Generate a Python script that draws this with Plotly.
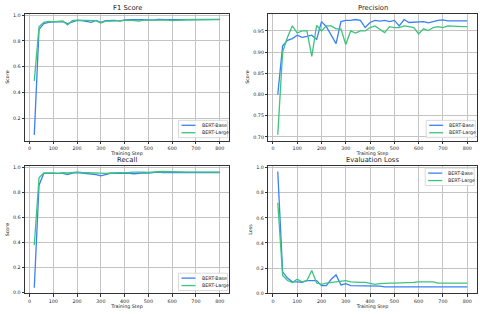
import plotly.graph_objects as go
from plotly.subplots import make_subplots

steps = list(range(20, 801, 20))

f1_base = [0.07, 0.89, 0.935, 0.945, 0.948, 0.950, 0.950, 0.935, 0.950, 0.960,
           0.958, 0.952, 0.945, 0.960, 0.945, 0.958, 0.960, 0.960, 0.955, 0.963,
           0.965, 0.963, 0.965, 0.965, 0.965, 0.962, 0.968, 0.965, 0.966, 0.965,
           0.966, 0.965, 0.967, 0.968, 0.968, 0.968, 0.968, 0.968, 0.968, 0.968]
f1_large = [0.49, 0.91, 0.945, 0.952, 0.948, 0.952, 0.955, 0.925, 0.958, 0.962,
            0.962, 0.960, 0.958, 0.958, 0.940, 0.955, 0.955, 0.955, 0.957, 0.960,
            0.962, 0.960, 0.955, 0.962, 0.962, 0.962, 0.965, 0.962, 0.962, 0.958,
            0.962, 0.962, 0.965, 0.965, 0.965, 0.966, 0.966, 0.966, 0.966, 0.966]

prec_base = [0.80, 0.915, 0.928, 0.932, 0.940, 0.935, 0.937, 0.940, 0.930, 0.972,
             0.960, 0.940, 0.920, 0.972, 0.975, 0.975, 0.977, 0.975, 0.958, 0.970,
             0.975, 0.973, 0.975, 0.972, 0.975, 0.962, 0.977, 0.970, 0.971, 0.972,
             0.972, 0.969, 0.972, 0.975, 0.976, 0.974, 0.974, 0.974, 0.974, 0.974]
prec_large = [0.705, 0.900, 0.935, 0.962, 0.945, 0.950, 0.950, 0.890, 0.963, 0.950,
              0.962, 0.962, 0.955, 0.955, 0.918, 0.950, 0.945, 0.950, 0.950, 0.958,
              0.962, 0.955, 0.946, 0.960, 0.958, 0.958, 0.962, 0.960, 0.958, 0.943,
              0.955, 0.951, 0.958, 0.960, 0.958, 0.962, 0.961, 0.960, 0.960, 0.960]

rec_base = [0.04, 0.86, 0.955, 0.955, 0.955, 0.960, 0.955, 0.945, 0.958, 0.962,
            0.958, 0.955, 0.955, 0.945, 0.935, 0.945, 0.955, 0.955, 0.955, 0.958,
            0.955, 0.952, 0.958, 0.960, 0.958, 0.962, 0.965, 0.962, 0.962, 0.962,
            0.963, 0.962, 0.962, 0.963, 0.962, 0.962, 0.962, 0.962, 0.962, 0.962]
rec_large = [0.38, 0.92, 0.958, 0.960, 0.958, 0.955, 0.960, 0.958, 0.962, 0.965,
             0.962, 0.960, 0.958, 0.958, 0.955, 0.955, 0.958, 0.958, 0.960, 0.958,
             0.962, 0.965, 0.968, 0.965, 0.962, 0.968, 0.968, 0.970, 0.968, 0.965,
             0.965, 0.965, 0.965, 0.965, 0.965, 0.965, 0.965, 0.965, 0.965, 0.965]

loss_base = [0.97, 0.17, 0.12, 0.09, 0.09, 0.085, 0.10, 0.10, 0.10, 0.06,
             0.06, 0.11, 0.145, 0.065, 0.075, 0.06, 0.06, 0.06, 0.06, 0.06,
             0.055, 0.055, 0.05, 0.05, 0.055, 0.05, 0.05, 0.05, 0.05, 0.055,
             0.055, 0.055, 0.05, 0.05, 0.05, 0.05, 0.05, 0.05, 0.05, 0.05]
loss_large = [0.72, 0.14, 0.10, 0.085, 0.11, 0.09, 0.10, 0.18, 0.08, 0.07,
              0.08, 0.085, 0.09, 0.09, 0.10, 0.09, 0.085, 0.085, 0.085, 0.08,
              0.07, 0.075, 0.08, 0.08, 0.08, 0.08, 0.08, 0.08, 0.085, 0.09,
              0.09, 0.095, 0.09, 0.08, 0.08, 0.08, 0.08, 0.08, 0.08, 0.08]

titles = ["F1 Score", "Precision", "Recall", "Evaluation Loss"]
ylabels = ["Score", "Score", "Score", "Loss"]
series_names = ["BERT-Base", "BERT-Large"]
x_ticks = list(range(0, 801, 100))

BLUE = "#3a80f6"
GREEN = "#3cc47c"
W, H = 480, 314
FONT = "DejaVu Sans"

fig = make_subplots(rows=2, cols=2)

panels = [
    (1, 1, f1_base, f1_large, [0.025, 1.013], [0.2, 0.4, 0.6, 0.8, 1.0], ".1f", "br"),
    (1, 2, prec_base, prec_large, [0.691, 0.991], [0.70, 0.75, 0.80, 0.85, 0.90, 0.95], ".2f", "br"),
    (2, 1, rec_base, rec_large, [-0.0065, 1.0165], [0.0, 0.2, 0.4, 0.6, 0.8, 1.0], ".1f", "br"),
    (2, 2, loss_base, loss_large, [-0.003, 1.016], [0.0, 0.2, 0.4, 0.6, 0.8, 1.0], ".1f", "tr"),
]

# pixel boxes of each axes (left, right, top, bottom)
boxes = {
    (1, 1): (25, 229, 12.7, 141),
    (1, 2): (268.3, 476.7, 12.7, 141),
    (2, 1): (25, 229, 166.3, 295.3),
    (2, 2): (268.3, 476.7, 166.3, 295.3),
}

shapes = []
annotations = []

for i, (r, c, yb, yl, yrange, yticks, fmt, legpos) in enumerate(panels):
    fig.add_trace(go.Scatter(x=steps, y=yb, mode="lines", name=series_names[0],
                             line=dict(color=BLUE, width=1.3), showlegend=False), row=r, col=c)
    fig.add_trace(go.Scatter(x=steps, y=yl, mode="lines", name=series_names[1],
                             line=dict(color=GREEN, width=1.3), showlegend=False), row=r, col=c)
    L, R, T, B = boxes[(r, c)]
    fig.update_xaxes(domain=[L / W, R / W], range=[-19, 839], tickvals=x_ticks,
                     row=r, col=c)
    fig.update_yaxes(domain=[1 - B / H, 1 - T / H], range=yrange, tickvals=yticks,
                     ticktext=[format(v, fmt) for v in yticks], row=r, col=c)
    fig.update_xaxes(title_text="Training Step", title_standoff=0, row=r, col=c)
    fig.update_yaxes(title_text=ylabels[i], title_standoff=3, row=r, col=c)

    # title
    annotations.append(dict(text=titles[i], x=(L + R) / 2 / W, y=1 - (T - 6) / H,
                            xref="paper", yref="paper", showarrow=False,
                            xanchor="center", yanchor="middle",
                            font=dict(family=FONT, size=6.8, color="#222")))
    # legend (manual)
    lw, lh = 49, 17.5
    if legpos == "br":
        lx1 = R - 1.5
        ly1 = B - 3
        ly0 = ly1 - lh
    else:
        lx1 = R - 2.5
        ly0 = T + 2.5
        ly1 = ly0 + lh
    lx0 = lx1 - lw
    shapes.append(dict(type="rect", xref="paper", yref="paper",
                       x0=lx0 / W, x1=lx1 / W, y0=1 - ly1 / H, y1=1 - ly0 / H,
                       line=dict(color="#d0d0d0", width=0.8), fillcolor="rgba(255,255,255,0.85)",
                       layer="above"))
    for k, (nm, col) in enumerate(zip(series_names, [BLUE, GREEN])):
        yy = ly0 + 5 + k * 7.5
        shapes.append(dict(type="line", xref="paper", yref="paper",
                           x0=(lx0 + 3) / W, x1=(lx0 + 17) / W, y0=1 - yy / H, y1=1 - yy / H,
                           line=dict(color=col, width=1.3), layer="above"))
        annotations.append(dict(text=nm, x=(lx0 + 21) / W, y=1 - yy / H,
                                xref="paper", yref="paper", showarrow=False,
                                xanchor="left", yanchor="middle",
                                font=dict(family=FONT, size=4.8, color="#222")))

axis_style = dict(showline=True, mirror=True, linecolor="#333", linewidth=0.8,
                  showgrid=True, gridcolor="#c4c4c4", gridwidth=1,
                  ticks="outside", ticklen=2.5, tickwidth=0.8, tickcolor="#333",
                  zeroline=False,
                  tickfont=dict(family=FONT, size=4.8, color="#222"),
                  title_font=dict(family=FONT, size=4.8, color="#222"))
fig.update_xaxes(**axis_style)
fig.update_yaxes(**axis_style)

fig.update_layout(width=W, height=H, autosize=False,
                  margin=dict(l=0, r=0, t=0, b=0),
                  paper_bgcolor="white", plot_bgcolor="white",
                  showlegend=False, shapes=shapes, annotations=annotations,
                  font=dict(family=FONT))

fig.write_html("out.html", config={"displayModeBar": False},
               post_script="document.body.style.margin='0';document.body.style.overflow='hidden';")
